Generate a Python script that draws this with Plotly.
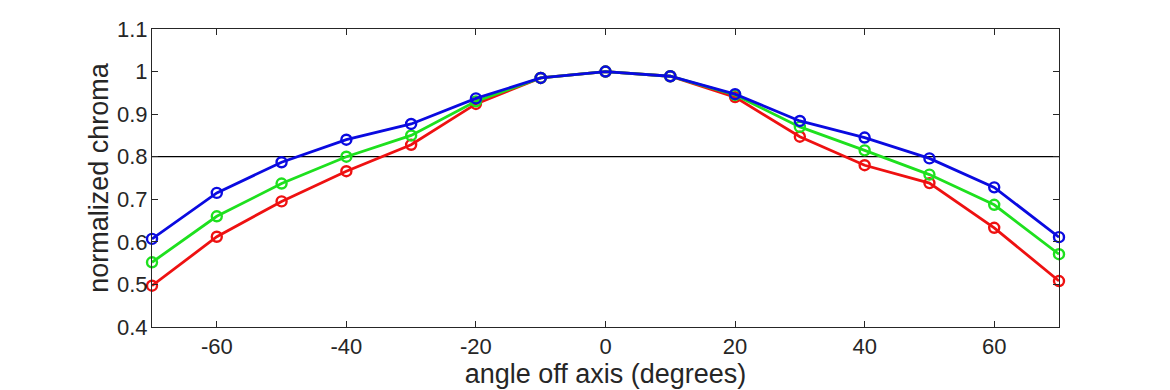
import plotly.graph_objects as go

angles = [-70, -60, -50, -40, -30, -20, -10, 0, 10, 20, 30, 40, 50, 60, 70]
red_vals = [0.497, 0.612, 0.695, 0.766, 0.828, 0.924, 0.985, 1.0, 0.989, 0.940, 0.847, 0.780, 0.738, 0.633, 0.508]
green_vals = [0.552, 0.660, 0.737, 0.800, 0.850, 0.930, 0.985, 1.0, 0.989, 0.945, 0.870, 0.815, 0.758, 0.687, 0.571]
blue_vals = [0.607, 0.715, 0.787, 0.840, 0.877, 0.937, 0.985, 1.0, 0.989, 0.947, 0.884, 0.845, 0.796, 0.728, 0.611]
threshold = 0.8

x_ticks = [-60, -40, -20, 0, 20, 40, 60]
x_labels = ["-60", "-40", "-20", "0", "20", "40", "60"]
y_ticks = [0.4, 0.5, 0.6, 0.7, 0.8, 0.9, 1.0, 1.1]
y_labels = ["0.4", "0.5", "0.6", "0.7", "0.8", "0.9", "1", "1.1"]

series = [("red", red_vals, "#ee1111"), ("green", green_vals, "#1ee01e"), ("blue", blue_vals, "#0a0ae0")]

FONT = "Liberation Sans, Arial, sans-serif"

fig = go.Figure()
for name, vals, col in series:
    fig.add_trace(go.Scatter(
        x=angles, y=vals, mode="lines+markers", name=name,
        line=dict(color=col, width=2.8),
        marker=dict(symbol="circle-open", size=10, color=col, line=dict(width=2.4, color=col)),
        cliponaxis=False,
    ))

fig.add_shape(type="line", xref="paper", x0=0, x1=1, yref="y", y0=threshold, y1=threshold,
              line=dict(color="black", width=1.2), layer="below")

axis_common = dict(
    showline=True, linecolor="#262626", linewidth=1, mirror="ticks",
    ticks="inside", ticklen=6, tickcolor="#262626", tickwidth=1,
    showgrid=False, zeroline=False, automargin=False,
    tickfont=dict(family=FONT, size=22, color="#262626"),
)

# The page body has an 8px default margin; size the figure to fill the remaining window.
fig.update_layout(
    width=1162, height=382,
    margin=dict(l=144, r=111, t=21, b=63),
    paper_bgcolor="white", plot_bgcolor="white",
    showlegend=False,
    xaxis=dict(range=[-70, 70], tickvals=x_ticks, ticktext=x_labels,
               title=dict(text="angle off axis (degrees)", standoff=2,
                          font=dict(family=FONT, size=27, color="#262626")),
               **axis_common),
    yaxis=dict(range=[0.4, 1.1], tickvals=y_ticks, ticktext=y_labels,
               ticklabelstandoff=-1,
               title=dict(text="normalized chroma", standoff=0,
                          font=dict(family=FONT, size=27, color="#262626")),
               **axis_common),
)

fig.write_html("out.html")
